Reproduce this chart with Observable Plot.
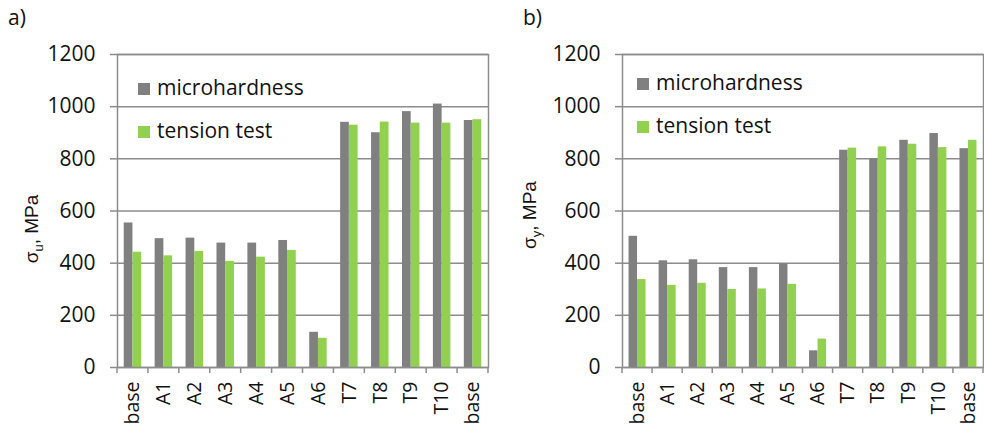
<!DOCTYPE html>
<html>
<head>
<meta charset="utf-8">
<script src="https://cdn.jsdelivr.net/npm/d3@7"></script>
<script src="https://cdn.jsdelivr.net/npm/@observablehq/plot@0.6"></script>
<style>
  body { margin: 0; background: #fff; }
  #wrap { position: relative; width: 984px; height: 425px; overflow: hidden; }
  .panel { position: absolute; top: 0; width: 492px; height: 425px; }
  .panel svg { overflow: visible; }
</style>
</head>
<body>
<div id="wrap">
  <div class="panel" id="pa" style="left:0"></div>
  <div class="panel" id="pb" style="left:492px"></div>
</div>
<script>
// Specimen groups along the x axis (the base metal appears at both ends)
const categories = ["base", "A1", "A2", "A3", "A4", "A5", "A6", "T7", "T8", "T9", "T10", "base"];
const seriesNames = ["microhardness", "tension test"];
const seriesColors = ["#808080", "#92d050"];
const yTicks = [0, 200, 400, 600, 800, 1000, 1200];

// a) ultimate strength σu, MPa
const ultimateMicro   = [554, 494, 496, 477, 477, 487, 135, 940, 900, 981, 1010, 947];
const ultimateTension = [442, 428, 445, 407, 423, 449, 112, 929, 941, 937, 937, 950];

// b) yield strength σy, MPa
const yieldMicro   = [503, 409, 413, 383, 383, 398, 64, 833, 800, 871, 897, 839];
const yieldTension = [337, 315, 323, 299, 301, 319, 109, 841, 846, 856, 843, 871];

const gridColor = "#8c8c8c";
const padInner = 0.435;
const font = "'Open Sans', sans-serif";

function panel({el, tag, tagX, sub, titleX, titleY, micro, tension, marginLeft, marginRight, legendX, legendY}) {
  const width = 492, height = 425, marginTop = 54, marginBottom = 58;
  const rows = categories.map((c, i) => ({i, c, micro: micro[i], tension: tension[i]}));
  const step = (width - marginLeft - marginRight) / categories.length;
  const half = step * (1 - padInner) / 2;

  const chart = Plot.plot({
    width, height, marginTop, marginBottom, marginLeft, marginRight,
    style: {fontFamily: font, fontSize: "21px", color: "#111", background: "transparent"},
    x: {domain: d3.range(categories.length), paddingInner: padInner, paddingOuter: padInner / 2, round: false, axis: null},
    y: {domain: [0, 1200], axis: null},
    marks: [
      Plot.ruleY(yTicks, {stroke: gridColor, strokeWidth: 1.5}),
      Plot.barY(rows, {x: "i", y: "micro", fill: seriesColors[0], insetRight: half}),
      Plot.barY(rows, {x: "i", y: "tension", fill: seriesColors[1], insetLeft: half}),
      Plot.frame({stroke: gridColor, strokeWidth: 1.5}),
      Plot.axisY({ticks: yTicks, tickSize: 7, tickPadding: 15, tickFormat: d3.format("d"),
        stroke: gridColor, strokeWidth: 1.5, label: null, fill: "#111"}),
      Plot.axisX({tickSize: 0, tickPadding: 14, tickRotate: -90, tickFormat: i => categories[i],
        label: null, fill: "#111", fontSize: 19.5})
    ]
  });

  const svg = d3.select(chart);
  const xs = chart.scale("x"), ys = chart.scale("y");
  const y0 = ys.apply(0);

  // small tick marks between the category bands
  for (let k = 0; k <= categories.length; k++) {
    const x = marginLeft + k * xs.step;
    svg.append("line").attr("x1", x).attr("x2", x).attr("y1", y0).attr("y2", y0 + 6)
      .attr("stroke", gridColor).attr("stroke-width", 1.5);
  }

  // legend
  seriesNames.forEach((name, j) => {
    const by = legendY + j * 43;
    svg.append("rect").attr("x", legendX).attr("y", by - 12).attr("width", 12).attr("height", 12)
      .attr("fill", seriesColors[j]);
    svg.append("text").attr("x", legendX + 19).attr("y", by).attr("text-anchor", "start")
      .attr("font-family", font).attr("font-size", 21).attr("fill", "#111")
      .text(name);
  });

  // y axis title with subscript
  const t = svg.append("text")
    .attr("transform", `translate(${titleX},${titleY}) rotate(-90)`)
    .attr("text-anchor", "middle")
    .attr("font-family", "'Liberation Sans', Arial, sans-serif").attr("font-size", 19).attr("fill", "#111");
  t.append("tspan").text("σ");
  t.append("tspan").attr("font-size", 13).attr("dy", 5).text(sub);
  t.append("tspan").attr("dy", -5).text(", MPa");

  // panel tag
  svg.append("text").attr("x", tagX).attr("y", 25).attr("text-anchor", "start")
    .attr("font-family", font).attr("font-size", 21).attr("fill", "#111")
    .text(tag);

  document.getElementById(el).append(chart);
}

panel({el: "pa", tag: "a)", tagX: 8, sub: "u", titleX: 38, titleY: 229,
  micro: ultimateMicro, tension: ultimateTension, marginLeft: 117, marginRight: 4, legendX: 138, legendY: 95});
panel({el: "pb", tag: "b)", tagX: 31, sub: "y", titleX: 44, titleY: 215,
  micro: yieldMicro, tension: yieldTension, marginLeft: 130, marginRight: 1, legendX: 145, legendY: 90});
</script>
</body>
</html>
